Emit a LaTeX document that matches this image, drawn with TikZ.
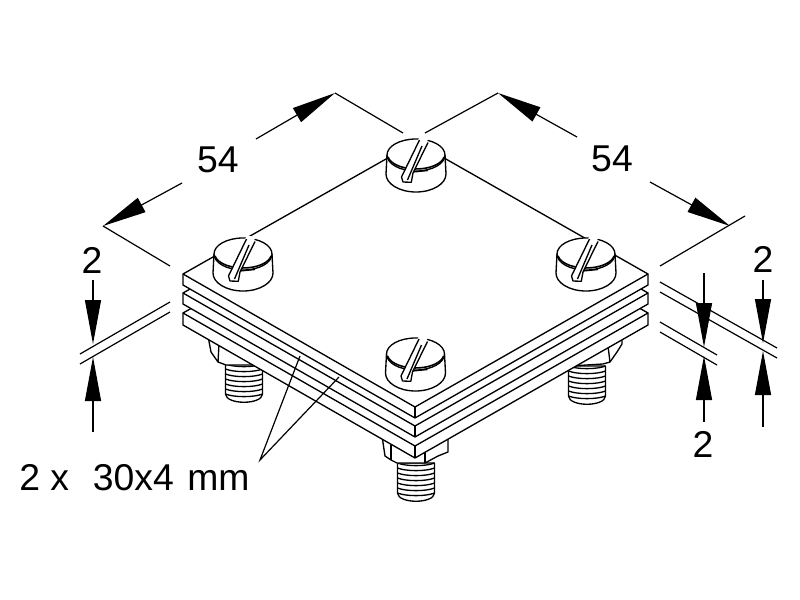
\documentclass[tikz,border=0pt]{standalone}
\usepackage{fontspec}
\setmainfont{Liberation Sans}
\usetikzlibrary{arrows.meta}
\tikzset{
  ln/.style={line width=1pt,line join=round,black},
  thin ln/.style={line width=0.9pt,black},
  dimarrow/.style={thin ln,-{Triangle[length=33pt,width=12pt]}},
  dimlabel/.style={inner sep=0pt,font=\fontsize{28}{30}\selectfont},
  screw/.pic={
    \draw[ln,fill=white] (-29,0) -- (-30,19) arc[start angle=180,end angle=0,x radius=30,y radius=18] -- (29,0);
    \draw[ln,fill=white] (0,0) ellipse[x radius=29,y radius=16];
    \draw[line width=1.2pt] (-28,2) arc[start angle=170,end angle=10,x radius=28.5,y radius=14.5];
    \fill[white] (3.5,-18) -- (13,-18) -- (-3,18) -- (-4.7,27.3) -- (-12.3,26.7) -- (-14.5,22) -- cycle;
    \draw[ln] (3.5,-15) -- (-14.5,22) -- (-13,27) -- (-4.7,27.3) -- (-3,18) -- (12,-12.5);
    \draw[ln] (6,-9) -- (-8.5,25);
    \draw[ln] (-3,17) -- (12,15.5);
  },
  bolt/.pic={
    \draw[ln,fill=white] (-18.5,0) -- (-18.5,30) .. controls (-18,41) and (18,41) .. (18.5,30) -- (18.5,0) -- cycle;
    \foreach \t in {0,5,...,30}{
      \draw[ln] (-18.5,\t) .. controls (-10,\t+3.5) and (10,\t+3.5) .. (18.5,\t);
    }
  },
}
\begin{document}
\begin{tikzpicture}[x=0.75pt,y=-0.75pt]
\useasboundingbox (0,0) rectangle (800,600);
\fill[white] (0,0) rectangle (800,600);
% threads
\pic at (244,364) {bolt};
\pic at (587,366) {bolt};
\pic at (416,463) {bolt};
% nuts
\draw[ln,fill=white] (208,336) -- (211,352) -- (218,362) -- (226,365) -- (262,365) -- (262,345) -- cycle;
\draw[ln] (219,344) -- (218,362);
\draw[ln,fill=white] (622,338) -- (622,344) -- (617,352) -- (610,362) -- (603,364) -- (570,366) -- (570,345) -- cycle;
\draw[ln] (608,346) -- (610,362);
\draw[ln,fill=white] (382,436) -- (385,456) -- (391,460) -- (397,463) -- (425,463) -- (438,456) -- (448,452) -- (448,436) -- cycle;
\draw[ln] (425,450) -- (425,463);
\draw[ln] (391,445) -- (391,460);
% plates, lowest first
\foreach \d/\t in {39/12,19/11,0/11}{
  \draw[ln,fill=white] (183,274+\d) -- (416,142+\d) -- (648,274+\d) -- (648,274+\d+\t) -- (415,407+\d+\t) -- (183,274+\d+\t) -- cycle;
  \draw[ln] (183,274+\d) -- (415,407+\d) -- (648,274+\d);
  \draw[ln] (415,407+\d) -- (415,407+\d+\t);
}
% screws
\pic at (243,254) {screw};
\pic at (416,155) {screw};
\pic at (586,254) {screw};
\pic at (415.5,354) {screw};
% leaders
\coordinate (la) at (300,356);
\coordinate (lb) at (339,377);
\coordinate (lc) at (260,460);
\draw[thin ln] (la) -- (lc) -- (lb);
% 54 left
\coordinate (a1) at (182,183);
\coordinate (a2) at (103,226);
\coordinate (a3) at (256,139);
\coordinate (a4) at (335,93);
\coordinate (a5) at (170,266);
\coordinate (a6) at (403,133);
\draw[dimarrow] (a1) -- (a2);
\draw[dimarrow] (a3) -- (a4);
\draw[thin ln] (a2) -- (a5);
\draw[thin ln] (a4) -- (a6);
% 54 right
\coordinate (b1) at (577,137);
\coordinate (b2) at (498,93);
\coordinate (b3) at (650,182);
\coordinate (b4) at (730,226);
\coordinate (b5) at (425,133);
\coordinate (b6) at (745,216);
\coordinate (b7) at (660,266);
\draw[dimarrow] (b1) -- (b2);
\draw[dimarrow] (b3) -- (b4);
\draw[thin ln] (b2) -- (b5);
\draw[thin ln] (b6) -- (b7);
% left 2
\coordinate (c1) at (93,280); \coordinate (c2) at (93,344);
\coordinate (c3) at (93,432); \coordinate (c4) at (93,357);
\draw[dimarrow] (c1) -- (c2);
\draw[dimarrow] (c3) -- (c4);
\coordinate (d1) at (80,354); \coordinate (d2) at (170,302);
\coordinate (d3) at (80,364); \coordinate (d4) at (170,312);
\draw[thin ln] (d1) -- (d2);
\draw[thin ln] (d3) -- (d4);
% right 2 (inner)
\coordinate (e1) at (704,273); \coordinate (e2) at (704,347);
\coordinate (e3) at (704,422); \coordinate (e4) at (704,356);
\draw[dimarrow] (e1) -- (e2);
\draw[dimarrow] (e3) -- (e4);
% right 2 (outer)
\coordinate (f1) at (763,280); \coordinate (f2) at (763,343);
\coordinate (f3) at (763,427); \coordinate (f4) at (763,351);
\draw[dimarrow] (f1) -- (f2);
\draw[dimarrow] (f3) -- (f4);
\coordinate (g1) at (660,282); \coordinate (g2) at (777,348);
\coordinate (g3) at (660,292); \coordinate (g4) at (777,358);
\coordinate (g5) at (660,322); \coordinate (g6) at (717,355);
\coordinate (g7) at (660,332); \coordinate (g8) at (717,365);
\draw[thin ln] (g1) -- (g2);
\draw[thin ln] (g3) -- (g4);
\draw[thin ln] (g5) -- (g6);
\draw[thin ln] (g7) -- (g8);
% labels
\node[dimlabel] (t54a) at (218,160) {54};
\node[dimlabel] (t54b) at (612,159) {54};
\node[dimlabel] (t2a) at (92,260) {2};
\node[dimlabel] (t2b) at (703,444) {2};
\node[dimlabel] (t2c) at (763,259) {2};
\node[dimlabel,anchor=base west] (tsize) at (19,490) {2 x\hspace{0.64em}30x4\hspace{0.36em}mm};
\end{tikzpicture}
\end{document}
